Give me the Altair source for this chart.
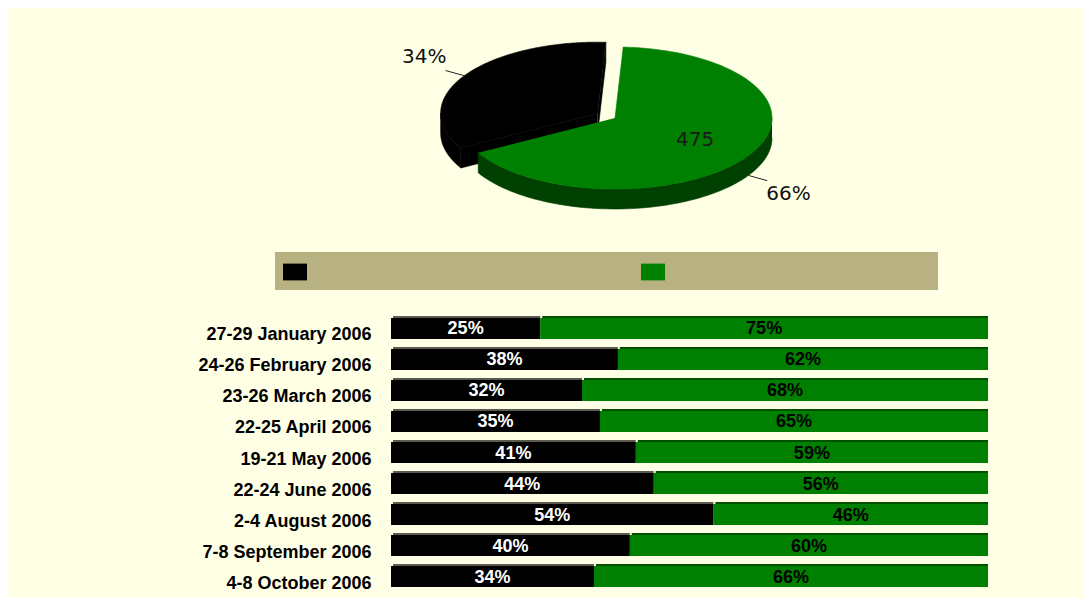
import numpy as np
import pandas as pd
import altair as alt

# ---------------- data ----------------
pie_series = ["Series 1", "Series 2"]
pie_shares = [34, 66]
pie_inner_label = "475"

dates = [
    "27-29 January 2006",
    "24-26 February 2006",
    "23-26 March 2006",
    "22-25 April 2006",
    "19-21 May 2006",
    "22-24 June 2006",
    "2-4 August 2006",
    "7-8 September 2006",
    "4-8 October 2006",
]
series1 = [25, 38, 32, 35, 41, 44, 54, 40, 34]
series2 = [75, 62, 68, 65, 59, 56, 46, 60, 66]

# ---------------- style / layout ----------------
BLACK = "#000000"
GREEN = "#008000"
DARK_GREEN = "#004000"
BG = "#FFFFE6"
LEGEND_BG = "#B8B283"
W, H = 1075, 590

CX, CY, RX, RY, DEPTH = 607, 110, 157, 71, 20
START = 3.0
EXPLODE = {"Series 1": 0.13, "Series 2": 0.0}


def rim(cx, cy, t, k=1.0, dy=0.0):
    r = np.radians(t)
    return cx + k * RX * np.sin(r), cy - k * RY * np.cos(r) + dy


# slices in clockwise order starting from the top
slices = []
a = START
for s in ["Series 2", "Series 1"]:
    share = pie_shares[pie_series.index(s)]
    span = share / 100.0 * 360.0
    mid = a + span / 2
    cx = CX + EXPLODE[s] * RX * np.sin(np.radians(mid))
    cy = CY - EXPLODE[s] * RY * np.cos(np.radians(mid))
    slices.append(dict(series=s, share=share, a0=a, a1=a + span, mid=mid, cx=cx, cy=cy))
    a += span

poly_rows = []
pid = [0]


def add_poly(pts, series, part):
    for k, (x, y) in enumerate(pts):
        poly_rows.append(dict(pid=pid[0], k=k, x=x, y=y, series=series, part=part))
    pid[0] += 1


for sl in slices[::-1]:  # back (exploded) slice first
    cx, cy, a0, a1 = sl["cx"], sl["cy"], sl["a0"], sl["a1"]
    for lo, hi in [(90, 270), (450, 630)]:
        s0, s1 = max(a0, lo), min(a1, hi)
        if s1 > s0:
            ts = np.linspace(s0, s1, 80)
            top = [rim(cx, cy, t) for t in ts]
            bot = [rim(cx, cy, t, dy=DEPTH) for t in ts[::-1]]
            add_poly(top + bot, sl["series"], "wall")
    for edge, normal in [(a0, a0 - 90), (a1, a1 + 90)]:
        if np.cos(np.radians(normal)) < 0:
            p = rim(cx, cy, edge)
            add_poly([(cx, cy), p, (p[0], p[1] + DEPTH), (cx, cy + DEPTH)], sl["series"], "wall")
    ts = np.linspace(a0, a1, 160)
    add_poly([(cx, cy)] + [rim(cx, cy, t) for t in ts], sl["series"], "top")

poly_df = pd.DataFrame(poly_rows)

lab_rows, lead_rows = [], []
for sl in slices:
    front = np.cos(np.radians(sl["mid"])) < 0
    dy = DEPTH if front else 0.0
    r = np.radians(sl["mid"])
    lx = sl["cx"] + 1.3 * RX * np.sin(r)
    ly = sl["cy"] - 1.5 * RY * np.cos(r) + dy
    lab_rows.append(dict(x=lx, y=ly, text=f"{sl['share']}%"))
    x0, y0 = rim(sl["cx"], sl["cy"], sl["mid"], 1.0, dy)
    x1, y1 = rim(sl["cx"], sl["cy"], sl["mid"], 1.14, dy)
    lead_rows.append(dict(x=x0, y=y0, x2=x1, y2=y1))
    if sl["series"] == "Series 2":
        ix, iy = rim(sl["cx"], sl["cy"], sl["mid"], 0.6)
        inner_df = pd.DataFrame([dict(x=ix, y=iy, text=pie_inner_label)])
lab_df = pd.DataFrame(lab_rows)
lead_df = pd.DataFrame(lead_rows)

# bars
bar_rows = []
for d, v1, v2 in zip(dates, series1, series2):
    bar_rows.append(dict(date=d, series="Series 1", start=0, end=v1, mid=v1 / 2, label=f"{v1}%"))
    bar_rows.append(dict(date=d, series="Series 2", start=v1, end=v1 + v2, mid=v1 + v2 / 2, label=f"{v2}%"))
bar_df = pd.DataFrame(bar_rows)

# ---------------- pie group ----------------
xpie = alt.X("x:Q", scale=alt.Scale(domain=[0, W], range=[0, W], nice=False, zero=False), axis=None)
ypie = alt.Y("y:Q", scale=alt.Scale(domain=[0, H], range=[0, H], nice=False, zero=False), axis=None)

poly = alt.Chart(poly_df)
black_part = poly.transform_filter("datum.series == 'Series 1'").mark_line(
    fill=BLACK, stroke=BLACK, strokeWidth=0.6
).encode(x=xpie, y=ypie, detail="pid:N", order="k:Q")
green_wall = poly.transform_filter("datum.series == 'Series 2' && datum.part == 'wall'").mark_line(
    fill=DARK_GREEN, stroke=DARK_GREEN, strokeWidth=0.6
).encode(x=xpie, y=ypie, detail="pid:N", order="k:Q")
green_top = poly.transform_filter("datum.series == 'Series 2' && datum.part == 'top'").mark_line(
    fill=GREEN, stroke=GREEN, strokeWidth=0.6
).encode(x=xpie, y=ypie, detail="pid:N", order="k:Q")

leaders = alt.Chart(lead_df).mark_rule(color="#222222", strokeWidth=1).encode(
    x=xpie, y=ypie, x2="x2:Q", y2="y2:Q"
)
pie_labels = alt.Chart(lab_df).mark_text(
    font="DejaVu Sans", fontSize=20, color="#111111", align="center", baseline="middle"
).encode(x=xpie, y=ypie, text="text:N")
inner_label = alt.Chart(inner_df).mark_text(
    font="DejaVu Sans", fontSize=20, color="#1a1a1a", align="center", baseline="middle"
).encode(x=xpie, y=ypie, text="text:N")

pie = alt.layer(black_part, green_wall, green_top, leaders, pie_labels, inner_label)

# ---------------- bar group ----------------
xbar = alt.X("start:Q", scale=alt.Scale(domain=[0, 100], range=[383, 980], nice=False), axis=None)
ybar = alt.Y(
    "date:N",
    sort=dates,
    scale=alt.Scale(range=[310, 579], paddingInner=0.323, paddingOuter=0),
    axis=alt.Axis(
        orient="left", offset=-383, title=None, domain=False, ticks=False,
        labelPadding=20, labelFont="Liberation Sans", labelFontWeight="bold",
        labelFontSize=18, labelColor="#000000", labelOffset=7, labelLimit=400,
    ),
)
bevel = alt.Chart(bar_df).mark_bar(yOffset=-2, xOffset=2).encode(
    x=xbar,
    x2="end:Q",
    y=ybar,
    color=alt.condition(alt.datum.series == "Series 1", alt.value("#5a5a50"), alt.value("#005000")),
)
bars = alt.Chart(bar_df).mark_bar().encode(
    x=alt.X("start:Q"),
    x2="end:Q",
    y=alt.Y("date:N", sort=dates),
    color=alt.Color(
        "series:N",
        scale=alt.Scale(domain=pie_series, range=[BLACK, GREEN]),
        legend=alt.Legend(
            title=".", titleOrient="right", titleColor=LEGEND_BG, titleFontSize=2,
            titlePadding=259,
            orient="none", legendX=267, legendY=244, direction="horizontal",
            columns=2, fillColor=LEGEND_BG, padding=8,
            symbolType="M-1,-0.7H1V0.7H-1Z", symbolSize=576, symbolStrokeWidth=0,
            symbolOpacity=1, labelExpr="''", labelColor=LEGEND_BG,
            labelFont="Liberation Sans", labelFontSize=20,
            labelOffset=5, columnPadding=329,
        ),
    ),
)
bar_text = alt.Chart(bar_df).mark_text(
    font="Liberation Sans", fontWeight="bold", fontSize=18, align="center", baseline="middle", dy=1
).encode(
    x=alt.X("mid:Q"),
    y=alt.Y("date:N", sort=dates),
    text="label:N",
    color=alt.condition(alt.datum.series == "Series 1", alt.value("#FFFFFF"), alt.value("#000000")),
)
bar_group = alt.layer(bevel, bars, bar_text)

chart = (
    alt.layer(pie, bar_group)
    .resolve_scale(x="independent", y="independent")
    .properties(width=W, height=H, background=BG, padding=0, autosize=alt.AutoSizeParams(type="none"))
    .configure_view(stroke=None)
)

chart.save("out.html", embed_options={"renderer": "svg", "actions": False})
